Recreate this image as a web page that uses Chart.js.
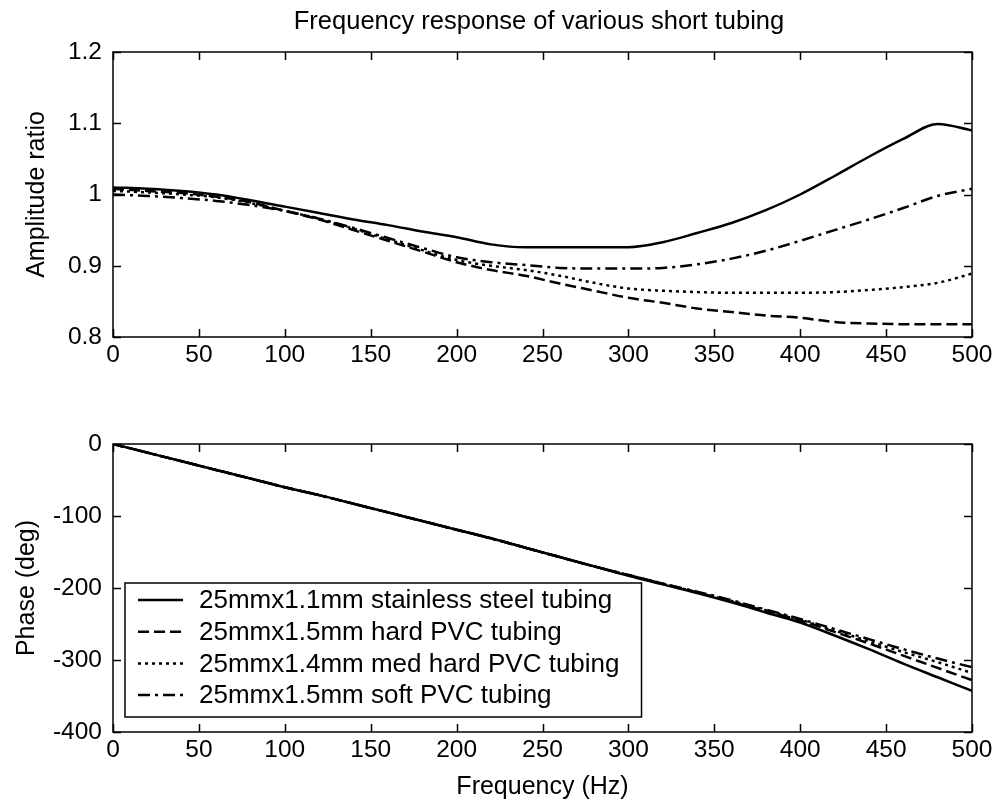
<!DOCTYPE html>
<html>
<head>
<meta charset="utf-8">
<script src="https://cdn.jsdelivr.net/npm/chart.js@4.4.1/dist/chart.umd.min.js"></script>
<style>
  html, body { margin: 0; padding: 0; background: #fff; }
  #wrap { position: relative; width: 999px; height: 807px; }
  .pane { position: absolute; left: 0; width: 999px; }
</style>
</head>
<body>
<div id="wrap">
  <div class="pane" style="top:0;height:400px"><canvas id="amp" width="999" height="400"></canvas></div>
  <div class="pane" style="top:400px;height:407px"><canvas id="phase" width="999" height="407"></canvas></div>
</div>
<script>
const freq = [0, 20, 40, 60, 80, 100, 120, 140, 160, 180, 200, 220, 240, 260, 280, 300, 320, 340, 360, 380, 400, 420, 440, 460, 480, 500]

const ampSteel = [1.010, 1.008, 1.005, 1.000, 0.992, 0.983, 0.974, 0.965, 0.957, 0.948, 0.940, 0.930, 0.926, 0.926, 0.926, 0.926, 0.933, 0.946, 0.960, 0.978, 1.000, 1.026, 1.053, 1.078, 1.099, 1.090]
const ampHard = [1.008, 1.005, 1.002, 0.997, 0.989, 0.977, 0.965, 0.950, 0.935, 0.920, 0.905, 0.894, 0.886, 0.875, 0.865, 0.855, 0.848, 0.840, 0.835, 0.830, 0.827, 0.821, 0.819, 0.818, 0.818, 0.818]
const ampMed = [1.005, 1.003, 1.000, 0.996, 0.988, 0.977, 0.966, 0.952, 0.937, 0.922, 0.908, 0.900, 0.894, 0.886, 0.876, 0.868, 0.865, 0.863, 0.862, 0.862, 0.862, 0.863, 0.866, 0.870, 0.876, 0.889]
const ampSoft = [1.000, 0.998, 0.995, 0.991, 0.985, 0.977, 0.966, 0.953, 0.939, 0.925, 0.912, 0.905, 0.901, 0.897, 0.896, 0.896, 0.897, 0.902, 0.910, 0.921, 0.935, 0.950, 0.965, 0.981, 0.998, 1.008]

const phSteel = [0, -12, -24, -36, -48, -60, -71, -83, -95, -107, -119, -131, -144, -157, -170, -183, -195, -207, -220, -234, -248, -266, -285, -305, -324, -343]
const phHard = [0, -12, -24, -36, -48, -60, -71, -83, -95, -107, -119, -131, -144, -157, -170, -182, -194, -206, -219, -232, -245, -261, -277, -294, -311, -328]
const phMed = [0, -12, -24, -36, -48, -60, -71, -83, -95, -107, -119, -131, -144, -157, -170, -182, -194, -206, -218, -231, -244, -259, -274, -289, -303, -318]
const phSoft = [0, -12, -24, -36, -48, -60, -71, -83, -95, -107, -119, -131, -144, -157, -170, -182, -194, -205, -217, -230, -243, -257, -271, -285, -298, -310]

const seriesNames = [
  "25mmx1.1mm stainless steel tubing",
  "25mmx1.5mm hard PVC tubing",
  "25mmx1.4mm med hard PVC tubing",
  "25mmx1.5mm soft PVC tubing",
]
const freqTicks = [0, 50, 100, 150, 200, 250, 300, 350, 400, 450, 500]
const ampTicks = [0.8, 0.9, 1, 1.1, 1.2]
const phaseTicks = [-400, -300, -200, -100, 0]

const FONT = "'Liberation Sans', Arial, sans-serif"
const dashes = [[], [11, 5], [3, 4], [12, 5, 3, 5]]

function makeSets(values) {
  return values.map((vals, i) => ({
    label: seriesNames[i],
    data: freq.map((f, j) => ({ x: f, y: vals[j] })),
    borderColor: "#000",
    borderWidth: 2.5,
    borderDash: dashes[i],
    pointRadius: 0,
    cubicInterpolationMode: "monotone",
    fill: false,
  }))
}

// box + inward ticks on all four sides, like a matlab axes
const frame = {
  id: "frame",
  afterDraw(chart) {
    const { ctx, chartArea: a, scales } = chart
    ctx.save()
    ctx.strokeStyle = "#000"
    ctx.lineWidth = 1.5
    ctx.beginPath()
    scales.x.ticks.forEach((t) => {
      const px = Math.round(scales.x.getPixelForValue(t.value)) + 0.5
      ctx.moveTo(px, a.top); ctx.lineTo(px, a.top + 8)
      ctx.moveTo(px, a.bottom); ctx.lineTo(px, a.bottom - 8)
    })
    scales.y.ticks.forEach((t) => {
      const py = Math.round(scales.y.getPixelForValue(t.value)) + 0.5
      ctx.moveTo(a.left, py); ctx.lineTo(a.left + 8, py)
      ctx.moveTo(a.right, py); ctx.lineTo(a.right - 8, py)
    })
    ctx.stroke()
    ctx.strokeRect(a.left, a.top, a.right - a.left, a.bottom - a.top)

    const o = chart.options.plugins.frame || {}
    if (o.title) {
      ctx.fillStyle = "#000"
      ctx.font = "25.5px " + FONT
      ctx.textAlign = "center"
      ctx.textBaseline = "middle"
      ctx.fillText(o.title, 539, 22)
    }
    if (o.legend) {
      ctx.font = "26px " + FONT
      let w = 0
      chart.data.datasets.forEach((d) => { w = Math.max(w, ctx.measureText(d.label).width) })
      const bx = a.left + 12, bh = 134, by = a.bottom - 15 - bh, bw = 74 + w + 22
      ctx.fillStyle = "#fff"
      ctx.fillRect(bx, by, bw, bh)
      ctx.lineWidth = 1.5
      ctx.strokeRect(bx, by, bw, bh)
      ctx.textAlign = "left"
      ctx.textBaseline = "middle"
      chart.data.datasets.forEach((d, i) => {
        const cy = by + 17 + i * 31.7
        ctx.beginPath()
        ctx.lineWidth = 2.5
        ctx.setLineDash(d.borderDash)
        ctx.moveTo(bx + 13, cy); ctx.lineTo(bx + 58, cy)
        ctx.stroke()
        ctx.setLineDash([])
        ctx.fillStyle = "#000"
        ctx.fillText(d.label, bx + 74, cy + 1)
      })
    }
    ctx.restore()
  },
}

function axisOpts(ticks, fmt, xHeight, xTitle, yTitle, yTitlePad) {
  return {
    x: {
      type: "linear", min: 0, max: 500,
      afterBuildTicks: (s) => { s.ticks = freqTicks.map((v) => ({ value: v })) },
      afterFit: (s) => { s.height = xHeight },
      grid: { display: false, drawTicks: false },
      border: { display: false },
      ticks: { color: "#000", font: { family: FONT, size: 24.5 }, padding: 4, maxRotation: 0 },
      title: { display: !!xTitle, text: xTitle, color: "#000", font: { family: FONT, size: 25 }, padding: { bottom: 5 } },
    },
    y: {
      type: "linear", min: ticks[0], max: ticks[ticks.length - 1],
      afterBuildTicks: (s) => { s.ticks = ticks.map((v) => ({ value: v })) },
      afterFit: (s) => { s.width = 113 },
      grid: { display: false, drawTicks: false },
      border: { display: false },
      ticks: { color: "#000", font: { family: FONT, size: 24.5 }, padding: 11, callback: fmt },
      title: { display: true, text: yTitle, color: "#000", font: { family: FONT, size: 25 }, padding: { top: yTitlePad } },
    },
  }
}

new Chart(document.getElementById("amp"), {
  type: "line",
  data: { datasets: makeSets([ampSteel, ampHard, ampMed, ampSoft]) },
  options: {
    responsive: false, animation: false,
    layout: { padding: { top: 52, right: 27, left: 0, bottom: 0 } },
    plugins: { legend: { display: false }, tooltip: { enabled: false }, frame: { title: "Frequency response of various short tubing" } },
    scales: axisOpts(ampTicks, (v) => String(Math.round(v * 10) / 10), 63, "", "Amplitude ratio", 22),
  },
  plugins: [frame],
})

new Chart(document.getElementById("phase"), {
  type: "line",
  data: { datasets: makeSets([phSteel, phHard, phMed, phSoft]) },
  options: {
    responsive: false, animation: false,
    layout: { padding: { top: 44, right: 27, left: 0, bottom: 0 } },
    plugins: { legend: { display: false }, tooltip: { enabled: false }, frame: { legend: true } },
    scales: axisOpts(phaseTicks, (v) => String(v), 75, "Frequency (Hz)", "Phase (deg)", 12),
  },
  plugins: [frame],
})
</script>
</body>
</html>
